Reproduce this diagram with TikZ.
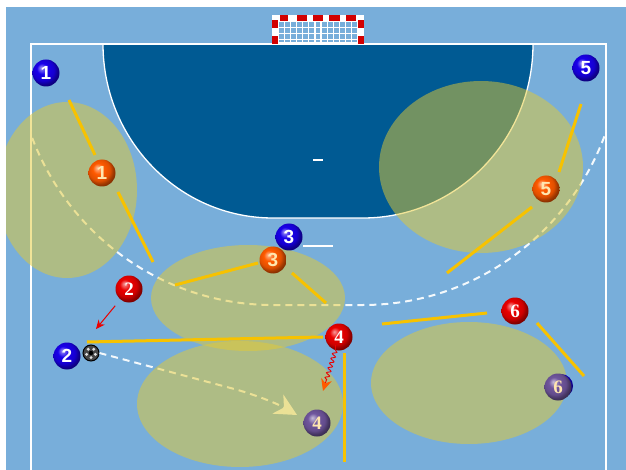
\documentclass[tikz,border=0pt]{standalone}
\usepackage{fontspec}
\setmainfont{Liberation Serif}
\newfontfamily\psansfam{Liberation Sans}
\usetikzlibrary{arrows.meta,decorations.pathmorphing,calc}
\makeatletter
\pgfdeclareradialshading[tikz@ball]{softball}{\pgfqpoint{-9bp}{10bp}}{color(0bp)=(tikz@ball!40!white); color(10bp)=(tikz@ball); color(20bp)=(tikz@ball!88!black); color(26bp)=(tikz@ball!60!black); color(50bp)=(black)}
\makeatother
\definecolor{fieldblue}{RGB}{120,174,218}
\definecolor{goalblue}{RGB}{0,90,147}
\definecolor{zone}{RGB}{228,202,50}
\definecolor{gold}{RGB}{247,194,0}
\definecolor{pblue}{RGB}{25,0,235}
\definecolor{pred}{RGB}{235,0,0}
\definecolor{porange}{RGB}{255,90,0}
\definecolor{ppurple}{RGB}{112,86,158}
\definecolor{paletxt}{RGB}{255,230,175}
\definecolor{goalred}{RGB}{210,0,0}
\newcommand\psans{\psansfam\bfseries\fontsize{19}{19}\selectfont}
\newcommand\pserif{\rmfamily\bfseries\fontsize{19}{19}\selectfont}
\begin{document}
\begin{tikzpicture}[x=1pt,y=-1pt,
  fieldline/.style={white, line width=1.3pt},
  dashline/.style={white!92!fieldblue, line width=2pt, dash pattern=on 7pt off 5pt},
  zonefill/.style={fill=zone, fill opacity=0.5},
  block/.style={gold, line width=3pt},
  player/.style={circle, minimum size=27pt, inner sep=0pt},
  bluep/.style={player, ball color=pblue, shading=softball, text=white, font=\psans},
  redp/.style={player, ball color=pred, shading=softball, text=white, font=\pserif},
  orangep/.style={player, ball color=porange, shading=softball, text=paletxt, font=\psans},
  purplep/.style={player, ball color=ppurple, shading=softball, text=paletxt, font=\pserif}]
\useasboundingbox (0,0) rectangle (626,470);
% background
\fill[white] (0,0) rectangle (626,470);
\fill[fieldblue] (6,7) rectangle (626,470);
% goal area
\filldraw[fill=goalblue, draw=white, line width=1.3pt] (103,44) arc[start angle=180,end angle=90,x radius=170,y radius=174] -- (363,218) arc[start angle=90,end angle=0,x radius=170,y radius=174] -- cycle;
% field lines
\draw[fieldline] (31,470) -- (31,44) -- (606,44) -- (606,470);
\draw[fieldline] (313,160) -- (323,160);
\draw[fieldline] (303,246) -- (333,246);
% 9m line
\begin{scope}
\clip (31,44) rectangle (606,470);
\draw[dashline] (15,44) arc[start angle=180,end angle=90,x radius=258,y radius=261] -- (363,305) arc[start angle=90,end angle=0,x radius=258,y radius=261];
\end{scope}
% goal
\fill[white] (272,15) rectangle (364,44);
\fill[fieldblue] (278,21) rectangle (358,44);
\foreach \i in {0,...,13} \draw[white, line width=1.3pt] (278+\i*6.15,21) -- (278+\i*6.15,44);
\foreach \j in {0,...,3} \draw[white, line width=1.3pt] (278,21+\j*6.2) -- (358,21+\j*6.2);
\fill[white] (272,42) rectangle (364,44);
\foreach \a/\b in {280/288,297/307,313/323,329/340,346/356} \fill[goalred] (\a,15) rectangle (\b,21);
\fill[goalred] (272,20) rectangle (278,28);
\fill[goalred] (272,36) rectangle (278,44);
\fill[goalred] (358,20) rectangle (364,28);
\fill[goalred] (358,36) rectangle (364,44);
% ball node
\node[circle, minimum size=16pt, inner sep=0pt, draw=black, line width=1pt, fill=gray!55!black] (ball) at (91,353) {};
% pass
\coordinate (passend) at (297,415);
\draw[dashline, -{Stealth[length=22pt,width=22pt,inset=7pt]}] (ball.east) -- (238,390) .. controls (258,396) and (276,403) .. (passend);
% zones
\begin{scope}
\clip (6,7) rectangle (626,470);
\fill[zonefill] (67,190) ellipse[x radius=70, y radius=88];
\fill[zonefill] (481,167) ellipse[x radius=102, y radius=86];
\fill[zonefill] (248,298) ellipse[x radius=97, y radius=53];
\fill[zonefill] (240,404) ellipse[x radius=103, y radius=63];
\fill[zonefill] (469,383) ellipse[x radius=98, y radius=61];
\end{scope}
% blocking lines
\draw[block] (69,100) -- (95,155);
\draw[block] (118,192) -- (153,262);
\draw[block] (175,285) -- (258,263);
\draw[block] (292,273) -- (326,303);
\draw[block] (87,342) -- (323,337);
\draw[block] (344,353) -- (344,462);
\draw[block] (382,324) -- (487,313);
\draw[block] (537,323) -- (584,376);
\draw[block] (581,104) -- (559,172);
\draw[block] (532,207) -- (447,273);
% players
\node[bluep] (b1) at (46,73) {1};
\node[bluep] (b5) at (586,68) {5};
\node[bluep] (b3) at (289,237) {3};
\node[bluep] (b2) at (67,356) {2};
\node[bluep, minimum size=24pt] (b6) at (561,386) {};
\node[orangep] (o1) at (102,173) {1};
\node[orangep] (o5) at (546,189) {5};
\node[orangep] (o3) at (273,260) {3};
\node[redp] (r2) at (129,289) {2};
\node[redp] (r4) at (339,337) {4};
\node[redp] (r6) at (515,311) {6};
\node[purplep] (u4) at (317,423) {4};
\node[purplep] (u6) at (558,387) {6};
% ball pattern
\fill[black] (ball) circle (2.2pt);
\foreach \a in {18,90,162,234,306} \fill[white!75!gray] ($(ball)+(\a:4.6)$) circle (1.6pt);
% movement arrows
\coordinate (r2tip) at (96,329);
\draw[pred, line width=1pt, shorten <=8pt, -{Stealth[length=9pt,width=8pt]}] (r2) -- (r2tip);
\coordinate (wavyend) at (323,391);
\draw[pred, line width=0.9pt, shorten <=5pt, -{Stealth[length=12pt,width=11pt,color=porange]}, decorate, decoration={snake, amplitude=2pt, segment length=5pt, post length=11pt}] (r4.-105) -- (wavyend);
\end{tikzpicture}
\end{document}
